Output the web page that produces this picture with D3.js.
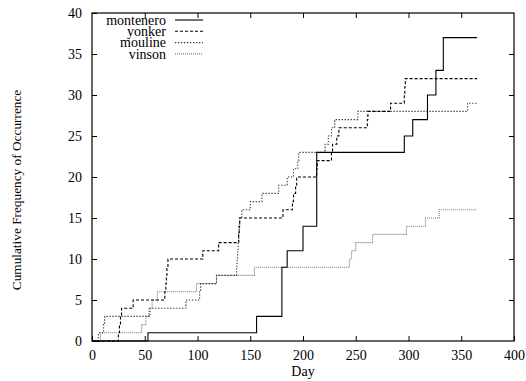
<!DOCTYPE html>
<html>
<head>
<meta charset="utf-8">
<script src="https://cdn.jsdelivr.net/npm/d3@7"></script>
<style>
  body { margin: 0; background: #fff; }
  svg text { font-family: "Liberation Serif", "Times New Roman", "DejaVu Serif", serif; font-size: 14px; fill: #000; }
</style>
</head>
<body>
<div id="chart"></div>
<script>
// step data: day on which the cumulative count reaches each value
var montenero_days = [0, 53, 156, 156, 180, 185, 200, 213, 296, 304, 318, 326, 333, 365];
var montenero_vals = [0, 1, 2, 3, 9, 11, 14, 23, 25, 27, 30, 33, 37, 37];

var yonker_days = [0, 25, 26, 27, 28, 39, 69, 70, 70.5, 71, 72, 105, 120, 139, 139.5, 140, 181, 190, 191, 193, 194, 213, 213.5, 227, 228, 232, 234, 261, 261.5, 283, 296, 296.5, 297, 365];
var yonker_vals = [0, 1, 2, 3, 4, 5, 6, 7, 8, 9, 10, 11, 12, 13, 14, 15, 16, 17, 18, 19, 20, 21, 22, 23, 24, 25, 26, 27, 28, 29, 30, 31, 32, 32];

var mouline_days = [0, 6, 11, 12, 55, 89, 102, 103, 118, 137, 137.5, 138, 138.5, 139, 139.5, 140, 142, 150, 161, 177, 185, 191, 195, 196, 221, 224, 227, 230, 252, 356, 365];
var mouline_vals = [0, 1, 2, 3, 4, 5, 6, 7, 8, 9, 10, 11, 12, 13, 14, 15, 16, 17, 18, 19, 20, 21, 22, 23, 24, 25, 26, 27, 28, 29, 29];

var vinson_days = [0, 8, 47, 51, 54, 57, 62, 99, 118, 154, 244, 246, 250, 266, 298, 316, 329, 347, 365];
var vinson_vals = [0, 1, 2, 3, 4, 5, 6, 7, 8, 9, 10, 11, 12, 13, 14, 15, 16, 16];

var series_names = ["montenero", "yonker", "mouline", "vinson"];
var x_ticks = [0, 50, 100, 150, 200, 250, 300, 350, 400];
var y_ticks = [0, 5, 10, 15, 20, 25, 30, 35, 40];

var W = 526, H = 381;
var margin = {top: 13, right: 12, bottom: 40, left: 92};
var width = W - margin.left - margin.right,
    height = H - margin.top - margin.bottom;

var svg = d3.select("#chart")
  .append("svg")
  .attr("width", W)
  .attr("height", H);

var g = svg.append("g")
  .attr("transform", "translate(" + margin.left + "," + margin.top + ")");

var x = d3.scaleLinear().domain([0, 400]).range([0, width]);
var y = d3.scaleLinear().domain([0, 40]).range([height, 0]);

function pairs(days, vals) {
  return days.map(function(d, i) { return [d, vals[i]]; });
}

var styles = {
  montenero: {color: "#000", dash: null, w: 1.1},
  yonker:    {color: "#000", dash: "3,2", w: 1.1},
  mouline:   {color: "#333", dash: "1.3,1.7", w: 1.1},
  vinson:    {color: "#777", dash: "1,1", w: 1.1}
};

var data = {
  montenero: pairs(montenero_days, montenero_vals),
  yonker: pairs(yonker_days, yonker_vals),
  mouline: pairs(mouline_days, mouline_vals),
  vinson: pairs(vinson_days, vinson_vals)
};

var line = d3.line()
  .x(function(d) { return x(d[0]); })
  .y(function(d) { return y(d[1]); })
  .curve(d3.curveStepAfter);

// draw in reverse so montenero sits on top
series_names.slice().reverse().forEach(function(name) {
  var s = styles[name];
  g.append("path")
    .datum(data[name])
    .attr("fill", "none")
    .attr("stroke", s.color)
    .attr("stroke-width", s.w)
    .attr("stroke-dasharray", s.dash)
    .attr("d", line);
});

// frame with inward ticks on all sides (gnuplot style)
var tickLen = 5;
g.append("g")
  .attr("transform", "translate(0," + height + ")")
  .call(d3.axisBottom(x).tickValues(x_ticks).tickSizeInner(-tickLen).tickSizeOuter(0).tickPadding(9))
  .call(function(a) { a.select(".domain").remove(); });
g.append("g")
  .call(d3.axisTop(x).tickValues(x_ticks.slice(1, -1)).tickSizeInner(-tickLen).tickSizeOuter(0).tickFormat(""))
  .call(function(a) { a.select(".domain").remove(); });
g.append("g")
  .call(d3.axisLeft(y).tickValues(y_ticks).tickSizeInner(-tickLen).tickSizeOuter(0).tickPadding(10))
  .call(function(a) { a.select(".domain").remove(); });
g.append("g")
  .attr("transform", "translate(" + width + ",0)")
  .call(d3.axisRight(y).tickValues(y_ticks.slice(1, -1)).tickSizeInner(-tickLen).tickSizeOuter(0).tickFormat(""))
  .call(function(a) { a.select(".domain").remove(); });

g.selectAll("g").attr("font-family", null).attr("font-size", null);
g.selectAll(".tick line").attr("stroke", "#000").attr("stroke-width", 1);
g.selectAll(".tick text").attr("fill", "#000");

g.append("rect")
  .attr("width", width)
  .attr("height", height)
  .attr("fill", "none")
  .attr("stroke", "#000")
  .attr("stroke-width", 1.2);

// axis titles
svg.append("text")
  .attr("x", margin.left + width / 2)
  .attr("y", H - 5)
  .attr("text-anchor", "middle")
  .text("Day");

svg.append("text")
  .attr("transform", "translate(21,190) rotate(-90)")
  .attr("text-anchor", "middle")
  .style("font-size", "13.3px")
  .text("Cumulative Frequency of Occurrence");

// legend
var legend = g.append("g");
series_names.forEach(function(name, i) {
  var s = styles[name];
  var ly = 7 + i * 11.3;
  legend.append("text")
    .attr("x", 74)
    .attr("y", ly)
    .attr("dy", "0.33em")
    .attr("text-anchor", "end")
    .text(name);
  legend.append("line")
    .attr("x1", 83).attr("x2", 111)
    .attr("y1", ly).attr("y2", ly)
    .attr("stroke", s.color)
    .attr("stroke-width", s.w)
    .attr("stroke-dasharray", s.dash);
});
</script>
</body>
</html>
